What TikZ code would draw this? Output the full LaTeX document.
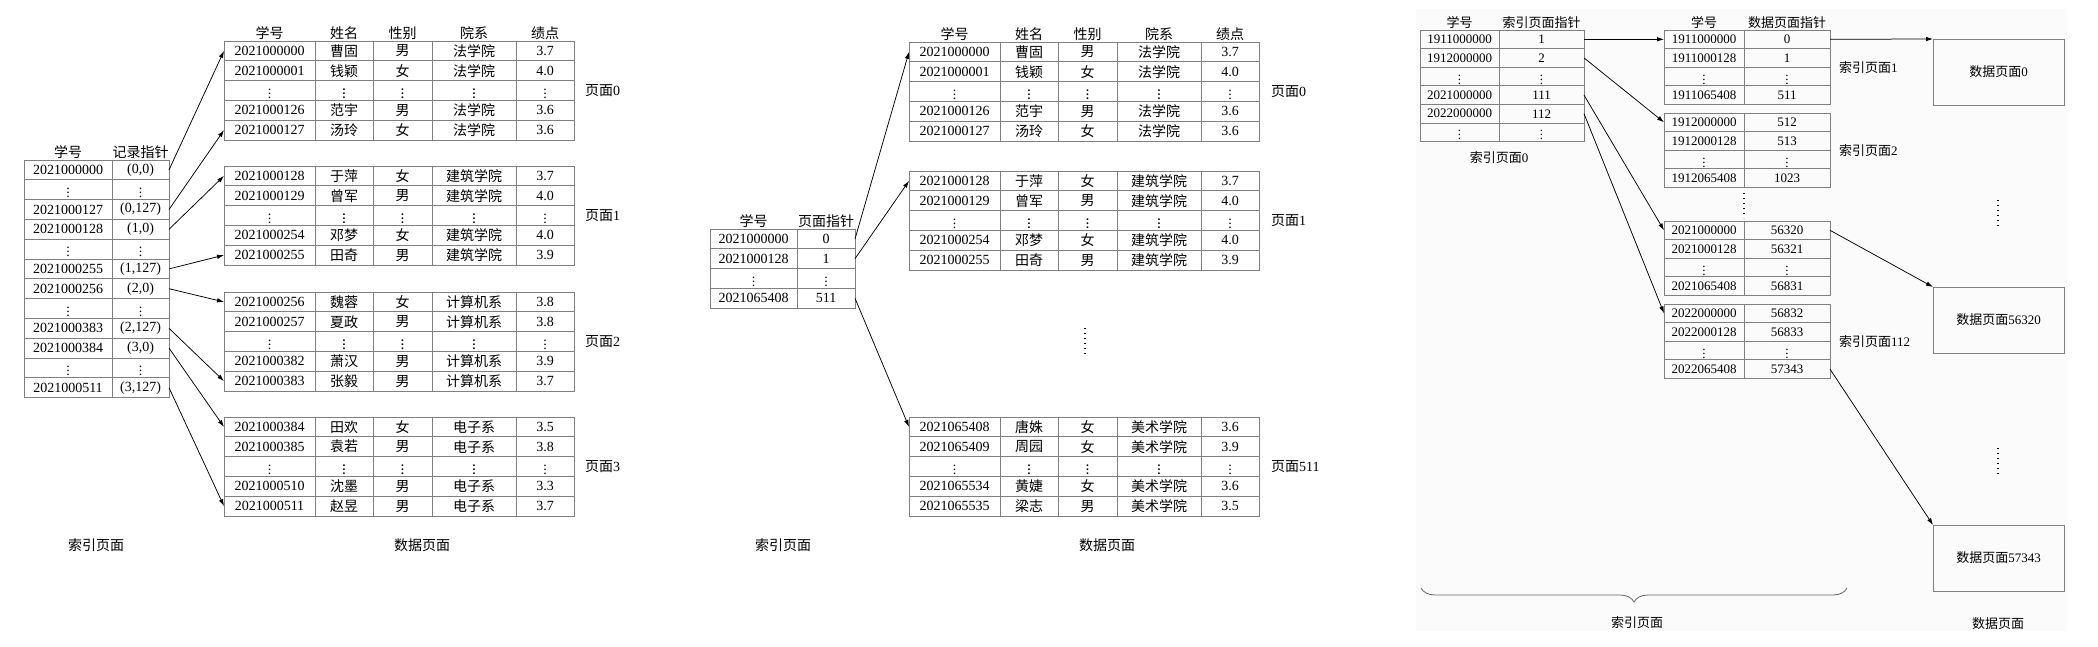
\documentclass[tikz,border=0pt]{standalone}
\usepackage{fontspec}
\setmainfont{Liberation Serif}
\newfontfamily\cjk{Noto Sans CJK SC}
\usetikzlibrary{positioning,arrows.meta,decorations.pathreplacing}
\definecolor{panelbg}{RGB}{251,251,252}
\newcommand{\vd}{$\vdots$}
% one row of a data page: name, x, y, five values
\newcommand{\datarow}[8]{%
  \node[cell, minimum width=91pt] (#1-1) at (#2,{#3}) {#4};
  \node[ccell, minimum width=58pt] (#1-2) at (#1-1.north east) {#5};
  \node[ccell, minimum width=59pt] (#1-3) at (#1-2.north east) {#6};
  \node[ccell, minimum width=84pt] (#1-4) at (#1-3.north east) {#7};
  \node[cell, minimum width=58pt] (#1-5) at (#1-4.north east) {#8};
}
\begin{document}
\begin{tikzpicture}[x=1pt, y=-1pt, >={Latex[length=7pt,width=4.5pt]},
% common options for table cells:
cell/.style = {draw=black!50, line width=0.8pt, rectangle, anchor=north west,
            minimum height=19.8pt, inner sep=0, outer sep=0,
            font=\fontsize{14}{16}\selectfont},
ccell/.style = {cell, font=\fontsize{14}{16}\selectfont\cjk},
% the smaller cells of the two-level index:
cellc/.style = {cell, minimum height=18.6pt, font=\fontsize{13}{15}\selectfont},
% texts:
lbl/.style = {inner sep=1pt, font=\fontsize{14}{16}\selectfont\cjk},
lblc/.style = {inner sep=1pt, font=\fontsize{13}{15}\selectfont\cjk},
dbox/.style = {draw=black!50, line width=0.8pt, anchor=north west, minimum width=131pt,
            minimum height=66pt, inner sep=0, outer sep=0,
            font=\fontsize{13}{15}\selectfont\cjk},
dots/.style = {line width=1.1pt, dash pattern=on 1.1pt off 3.9pt},
link/.style = {->, line width=0.75pt}]
\useasboundingbox (0,0) rectangle (2098,646);
\fill[panelbg] (1416,9) rectangle (2067,631);

% ---- left: dense index ----
\foreach \r/\xa/\xb in {1/2021000000/{(0,0)}, 2/\vd/\vd, 3/2021000127/{(0,127)},
    4/2021000128/{(1,0)}, 5/\vd/\vd, 6/2021000255/{(1,127)}, 7/2021000256/{(2,0)},
    8/\vd/\vd, 9/2021000383/{(2,127)}, 10/2021000384/{(3,0)}, 11/\vd/\vd,
    12/2021000511/{(3,127)}} {
  \node[cell, minimum width=88pt] (ka\r) at (24,{160+19.8*(\r-1)}) {\xa};
  \node[cell, minimum width=57pt] (pa\r) at (ka\r.north east) {\xb};
}
\node[lbl, above=0pt of ka1] (hka) {学号};
\node[lbl, above=0pt of pa1] (hpa) {记录指针};
\foreach \r/\xa/\xb/\xc/\xd/\xe in {1/2021000000/曹固/男/法学院/3.7,
    2/2021000001/钱颖/女/法学院/4.0, 3/\vd/\vd/\vd/\vd/\vd,
    4/2021000126/范宇/男/法学院/3.6, 5/2021000127/汤玲/女/法学院/3.6}
  {\datarow{da0-\r}{224}{41+19.8*(\r-1)}{\xa}{\xb}{\xc}{\xd}{\xe}}
\foreach \r/\xa/\xb/\xc/\xd/\xe in {1/2021000128/于萍/女/建筑学院/3.7,
    2/2021000129/曾军/男/建筑学院/4.0, 3/\vd/\vd/\vd/\vd/\vd,
    4/2021000254/邓梦/女/建筑学院/4.0, 5/2021000255/田奇/男/建筑学院/3.9}
  {\datarow{da1-\r}{224}{166+19.8*(\r-1)}{\xa}{\xb}{\xc}{\xd}{\xe}}
\foreach \r/\xa/\xb/\xc/\xd/\xe in {1/2021000256/魏蓉/女/计算机系/3.8,
    2/2021000257/夏政/男/计算机系/3.8, 3/\vd/\vd/\vd/\vd/\vd,
    4/2021000382/萧汉/男/计算机系/3.9, 5/2021000383/张毅/男/计算机系/3.7}
  {\datarow{da2-\r}{224}{292+19.8*(\r-1)}{\xa}{\xb}{\xc}{\xd}{\xe}}
\foreach \r/\xa/\xb/\xc/\xd/\xe in {1/2021000384/田欢/女/电子系/3.5,
    2/2021000385/袁若/男/电子系/3.8, 3/\vd/\vd/\vd/\vd/\vd,
    4/2021000510/沈墨/男/电子系/3.3, 5/2021000511/赵昱/男/电子系/3.7}
  {\datarow{da3-\r}{224}{417+19.8*(\r-1)}{\xa}{\xb}{\xc}{\xd}{\xe}}
\node[lbl, above=0pt of da0-1-1] (ha1) {学号};
\node[lbl, above=0pt of da0-1-2] (ha2) {姓名};
\node[lbl, above=0pt of da0-1-3] (ha3) {性别};
\node[lbl, above=0pt of da0-1-4] (ha4) {院系};
\node[lbl, above=0pt of da0-1-5] (ha5) {绩点};
\node[lbl, right=10pt of da0-3-5] (la0) {页面\rmfamily 0};
\node[lbl, right=10pt of da1-3-5] (la1) {页面\rmfamily 1};
\node[lbl, right=10pt of da2-3-5] (la2) {页面\rmfamily 2};
\node[lbl, right=10pt of da3-3-5] (la3) {页面\rmfamily 3};
\node[lbl] (ta) at (96,545) {索引页面};
\node[lbl] (tb) at (422,545) {数据页面};
\draw[link] (pa1.east) -- (da0-1-1.west);
\draw[link] (pa3.east) -- (da0-5-1.west);
\draw[link] (pa4.east) -- (da1-1-1.west);
\draw[link] (pa6.east) -- (da1-5-1.west);
\draw[link] (pa7.east) -- (da2-1-1.west);
\draw[link] (pa9.east) -- (da2-5-1.west);
\draw[link] (pa10.east) -- (da3-1-1.west);
\draw[link] (pa12.east) -- (da3-5-1.west);

% ---- middle: sparse index ----
\foreach \r/\xa/\xb in {1/2021000000/0, 2/2021000128/1, 3/\vd/\vd, 4/2021065408/511} {
  \node[cell, minimum width=87pt] (kb\r) at (710,{229+19.8*(\r-1)}) {\xa};
  \node[cell, minimum width=58pt] (pb\r) at (kb\r.north east) {\xb};
}
\node[lbl, above=0pt of kb1] (hkb) {学号};
\node[lbl, above=0pt of pb1] (hpb) {页面指针};
\foreach \r/\xa/\xb/\xc/\xd/\xe in {1/2021000000/曹固/男/法学院/3.7,
    2/2021000001/钱颖/女/法学院/4.0, 3/\vd/\vd/\vd/\vd/\vd,
    4/2021000126/范宇/男/法学院/3.6, 5/2021000127/汤玲/女/法学院/3.6}
  {\datarow{db0-\r}{909}{42+19.8*(\r-1)}{\xa}{\xb}{\xc}{\xd}{\xe}}
\foreach \r/\xa/\xb/\xc/\xd/\xe in {1/2021000128/于萍/女/建筑学院/3.7,
    2/2021000129/曾军/男/建筑学院/4.0, 3/\vd/\vd/\vd/\vd/\vd,
    4/2021000254/邓梦/女/建筑学院/4.0, 5/2021000255/田奇/男/建筑学院/3.9}
  {\datarow{db1-\r}{909}{171+19.8*(\r-1)}{\xa}{\xb}{\xc}{\xd}{\xe}}
\foreach \r/\xa/\xb/\xc/\xd/\xe in {1/2021065408/唐姝/女/美术学院/3.6,
    2/2021065409/周园/女/美术学院/3.9, 3/\vd/\vd/\vd/\vd/\vd,
    4/2021065534/黄婕/女/美术学院/3.6, 5/2021065535/梁志/男/美术学院/3.5}
  {\datarow{db511-\r}{909}{417+19.8*(\r-1)}{\xa}{\xb}{\xc}{\xd}{\xe}}
\node[lbl, above=0pt of db0-1-1] (hb1) {学号};
\node[lbl, above=0pt of db0-1-2] (hb2) {姓名};
\node[lbl, above=0pt of db0-1-3] (hb3) {性别};
\node[lbl, above=0pt of db0-1-4] (hb4) {院系};
\node[lbl, above=0pt of db0-1-5] (hb5) {绩点};
\node[lbl, right=11pt of db0-3-5] (lb0) {页面\rmfamily 0};
\node[lbl, right=11pt of db1-3-5] (lb1) {页面\rmfamily 1};
\node[lbl, right=11pt of db511-3-5] (lb511) {页面\rmfamily 511};
\draw[dots] (1085,328) -- (1085,356);
\node[lbl] (tbi) at (783,545) {索引页面};
\node[lbl] (tbd) at (1107,545) {数据页面};
\draw[link] (pb1.east) -- (db0-1-1.west);
\draw[link] (pb2.east) -- (db1-1-1.west);
\draw[link] (pb4.east) -- (db511-1-1.west);

% ---- right: two-level index ----
\foreach \r/\xa/\xb in {1/1911000000/1, 2/1912000000/2, 3/\vd/\vd,
    4/2021000000/111, 5/2022000000/112, 6/\vd/\vd} {
  \node[cellc, minimum width=79pt] (kc\r) at (1420,{30+18.6*(\r-1)}) {\xa};
  \node[cellc, minimum width=85pt] (pc\r) at (kc\r.north east) {\xb};
}
\node[lblc, above=0pt of kc1] (hkc) {学号};
\node[lblc, above=0pt of pc1] (hpc) {索引页面指针};
\node[lblc, below=9pt of kc6.south east] (lc0) {索引页面\rmfamily 0};
\foreach \p/\t/\ka/\pa/\kb/\pb/\kd/\pd in {1/30/1911000000/0/1911000128/1/1911065408/511,
    2/113/1912000000/512/1912000128/513/1912065408/1023,
    111/221/2021000000/56320/2021000128/56321/2021065408/56831,
    112/304/2022000000/56832/2022000128/56833/2022065408/57343} {
  \node[cellc, minimum width=80pt] (ks\p-1) at (1664,\t) {\ka};
  \node[cellc, minimum width=86pt] (ps\p-1) at (ks\p-1.north east) {\pa};
  \node[cellc, minimum width=80pt] (ks\p-2) at (ks\p-1.south west) {\kb};
  \node[cellc, minimum width=86pt] (ps\p-2) at (ks\p-2.north east) {\pb};
  \node[cellc, minimum width=80pt] (ks\p-3) at (ks\p-2.south west) {\vd};
  \node[cellc, minimum width=86pt] (ps\p-3) at (ks\p-3.north east) {\vd};
  \node[cellc, minimum width=80pt] (ks\p-4) at (ks\p-3.south west) {\kd};
  \node[cellc, minimum width=86pt] (ps\p-4) at (ks\p-4.north east) {\pd};
}
\node[lblc, above=0pt of ks1-1] (hks) {学号};
\node[lblc, above=0pt of ps1-1] (hps) {数据页面指针};
\node[lblc, right=8pt of ps1-2.south east] (lc1) {索引页面\rmfamily 1};
\node[lblc, right=8pt of ps2-2.south east] (lc2) {索引页面\rmfamily 2};
\node[lblc, right=8pt of ps112-2.south east] (lc112) {索引页面\rmfamily 112};
\draw[dots] (1744,193) -- (1744,218);
\node[dbox] (dp0) at (1933,39) {数据页面\rmfamily 0};
\node[dbox] (dp56320) at (1933,287) {数据页面\rmfamily 56320};
\node[dbox] (dp57343) at (1933,525) {数据页面\rmfamily 57343};
\draw[dots] (1998,200) -- (1998,226);
\draw[dots] (1998,448) -- (1998,474);
\draw[link] (pc1.east) -- (ks1-1.west);
\draw[link] (pc2.east) -- (ks2-1.west);
\draw[link] (pc4.east) -- (ks111-1.west);
\draw[link] (pc5.east) -- (ks112-1.west);
\draw[link] (ps1-1.east) -- (dp0.north west);
\draw[link] (ps111-1.east) -- (dp56320.north west);
\draw[link] (ps112-4.east) -- (dp57343.north west);
\draw[black!60, line width=0.8pt, decorate, decoration={brace, mirror, amplitude=14pt}]
  (1421,588) -- (1847,588);
\node[lblc] (tc) at (1637,623) {索引页面};
\node[lblc] (td) at (1998,624) {数据页面};
\end{tikzpicture}
\end{document}
